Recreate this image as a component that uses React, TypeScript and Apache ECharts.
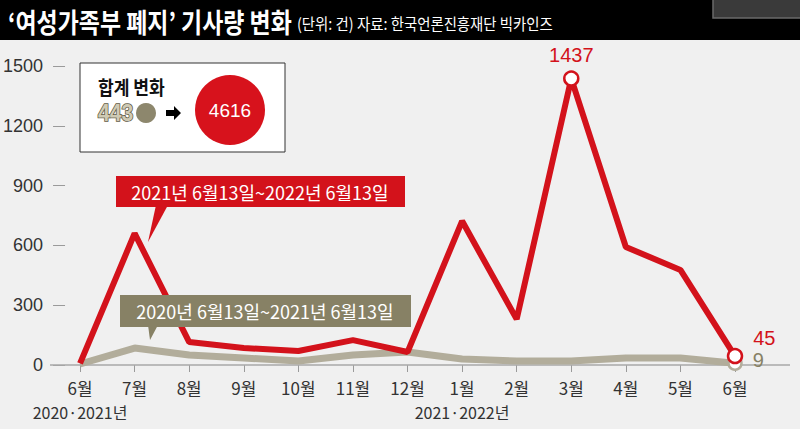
import React, { useEffect, useRef } from "react";
import * as echarts from "echarts";

const months = ["6월", "7월", "8월", "9월", "10월", "11월", "12월", "1월", "2월", "3월", "4월", "5월", "6월"];
const yearLabels = ["2020·2021년", "", "", "", "", "", "", "2021·2022년", "", "", "", "", ""];
const redValues = [8, 660, 115, 85, 70, 125, 65, 722, 230, 1437, 592, 477, 45];
const grayValues = [5, 85, 50, 35, 20, 50, 65, 30, 20, 20, 35, 35, 9];

const titleText = "‘여성가족부 폐지’ 기사량 변화";
const subtitleText = "(단위: 건) 자료: 한국언론진흥재단 빅카인즈";
const redLabel = "2021년 6월13일~2022년 6월13일";
const grayLabel = "2020년 6월13일~2021년 6월13일";
const totalTitle = "합계 변화";
const grayTotal = "443";
const redTotal = "4616";

const RED = "#d3121b";
const GRAY_LINE = "#b2ad9b";
const OLIVE = "#878165";
const KR = "'Noto Sans CJK KR', 'Noto Sans', sans-serif";
const NUM = "'Liberation Sans Narrow', 'Liberation Sans', 'Noto Sans CJK KR', sans-serif";

const markIdxRed = [9, redValues.length - 1];
const markIdxGray = [grayValues.length - 1];

export default function App() {
  const ref = useRef<HTMLDivElement>(null);
  useEffect(() => {
    if (!ref.current) return;
    const chart = echarts.init(ref.current, null, { renderer: "svg" });
    const lastI = months.length - 1;
    chart.setOption({
      animation: false,
      backgroundColor: "#f0f0f0",
      grid: { left: 77, right: 65, top: 66, bottom: 64 },
      xAxis: {
        type: "category",
        data: months,
        boundaryGap: false,
        axisLine: { show: false },
        axisTick: { show: true, length: 7, lineStyle: { color: "#9a9a9a", width: 1 } },
        axisLabel: {
          margin: 10,
          color: "#333",
          fontFamily: KR,
          fontSize: 17,
          lineHeight: 24,
          interval: 0,
          formatter: (v: string, i: number) => (yearLabels[i] ? `${v}\n{y|${yearLabels[i]}}` : v),
          rich: { y: { fontFamily: KR, fontSize: 16, color: "#333", lineHeight: 26 } },
        },
        splitLine: { show: false },
      },
      yAxis: {
        type: "value",
        min: 0,
        max: 1500,
        interval: 300,
        offset: 15,
        axisLine: { show: false },
        axisTick: { show: true, length: 12, lineStyle: { color: "#9a9a9a" } },
        axisLabel: { margin: 22, color: "#333", fontFamily: NUM, fontSize: 18, formatter: (v: number) => String(v) },
        splitLine: { show: false },
      },
      series: [
        {
          type: "line",
          data: grayValues.map((v, i) => ({
            value: v,
            symbol: markIdxGray.includes(i) ? "circle" : "none",
            label: i === lastI ? { show: true, position: "right", distance: 10, offset: [0, -3], formatter: "{c}", color: OLIVE, fontSize: 20, fontFamily: NUM } : { show: false },
          })),
          symbolSize: 13,
          showAllSymbol: true,
          lineStyle: { color: GRAY_LINE, width: 7 },
          itemStyle: { color: "#ffffff", borderColor: GRAY_LINE, borderWidth: 2.5 },
          z: 2,
        },
        {
          type: "line",
          data: redValues.map((v, i) => ({
            value: v,
            symbol: markIdxRed.includes(i) ? "circle" : "none",
            label:
              i === 9
                ? { show: true, position: "top", distance: 5, formatter: "{c}", color: RED, fontSize: 20, fontFamily: NUM }
                : i === lastI
                ? { show: true, position: "right", distance: 8, offset: [2, -18], formatter: "{c}", color: RED, fontSize: 20, fontFamily: NUM }
                : { show: false },
          })),
          symbolSize: 14,
          showAllSymbol: true,
          lineStyle: { color: RED, width: 6 },
          itemStyle: { color: "#ffffff", borderColor: RED, borderWidth: 2.5 },
          z: 3,
        },
      ],
      graphic: [
        { type: "rect", shape: { x: 0, y: 0, width: 800, height: 40 }, style: { fill: "#000" }, z: 10 },
        { type: "rect", shape: { x: 713, y: -2, width: 90, height: 20 }, style: { fill: "#3a3a3a", stroke: "#6a6a6a", lineWidth: 1.5 }, z: 11 },
        {
          type: "text", x: 8, y: 21, scaleX: 0.85, z: 12,
          style: { text: titleText, fill: "#fff", font: `bold 27px ${KR}`, verticalAlign: "middle" },
        },
        {
          type: "text", x: 297, y: 23, scaleX: 0.9, z: 12,
          style: { text: subtitleText, fill: "#fff", font: `16px ${KR}`, verticalAlign: "middle" },
        },
        { type: "line", shape: { x1: 50, y1: 365, x2: 790, y2: 365 }, style: { stroke: "#a8a8a8", lineWidth: 1.5 }, z: 1 },
        // legend box
        { type: "rect", shape: { x: 80, y: 63, width: 205, height: 89 }, style: { fill: "#fff", stroke: "#333", lineWidth: 1 }, z: 5 },
        {
          type: "text", x: 98, y: 87, scaleX: 0.9, z: 6,
          style: { text: totalTitle, fill: "#111", font: `bold 19px ${KR}`, verticalAlign: "middle" },
        },
        {
          type: "text", x: 98, y: 113, scaleX: 0.92, z: 6,
          style: { text: grayTotal, fill: "#cfcab4", stroke: "#5f5a45", lineWidth: 1.6, font: `bold 23px ${NUM}`, verticalAlign: "middle" },
        },
        { type: "circle", shape: { cx: 146, cy: 113, r: 10 }, style: { fill: "#8d876d" }, z: 6 },
        {
          type: "polygon", z: 6,
          shape: { points: [[166, 110], [174, 110], [174, 106], [181, 113], [174, 120], [174, 116], [166, 116]] },
          style: { fill: "#000" },
        },
        { type: "circle", shape: { cx: 230, cy: 110, r: 35 }, style: { fill: "#d7121c" }, z: 6 },
        {
          type: "text", x: 230, y: 110, z: 7,
          style: { text: redTotal, fill: "#fff", font: `19px ${NUM}`, align: "center", verticalAlign: "middle" },
        },
        // red callout
        { type: "polygon", shape: { points: [[156, 205], [168, 205], [148, 242]] }, style: { fill: RED }, z: 6 },
        { type: "rect", shape: { x: 116, y: 176, width: 289, height: 31 }, style: { fill: RED }, z: 6 },
        {
          type: "text", x: 260, y: 192, z: 7,
          style: { text: redLabel, fill: "#fff", font: `18px ${KR}`, align: "center", verticalAlign: "middle" },
        },
        // gray callout
        { type: "polygon", shape: { points: [[148, 325], [158, 325], [150, 340]] }, style: { fill: OLIVE }, z: 6 },
        { type: "rect", shape: { x: 120, y: 295, width: 291, height: 32 }, style: { fill: OLIVE }, z: 6 },
        {
          type: "text", x: 265, y: 311, z: 7,
          style: { text: grayLabel, fill: "#fff", font: `18px ${KR}`, align: "center", verticalAlign: "middle" },
        },
      ],
    });
    return () => chart.dispose();
  }, []);
  return <div ref={ref} style={{ position: "fixed", left: 0, top: 0, width: 800, height: 429 }} />;
}
